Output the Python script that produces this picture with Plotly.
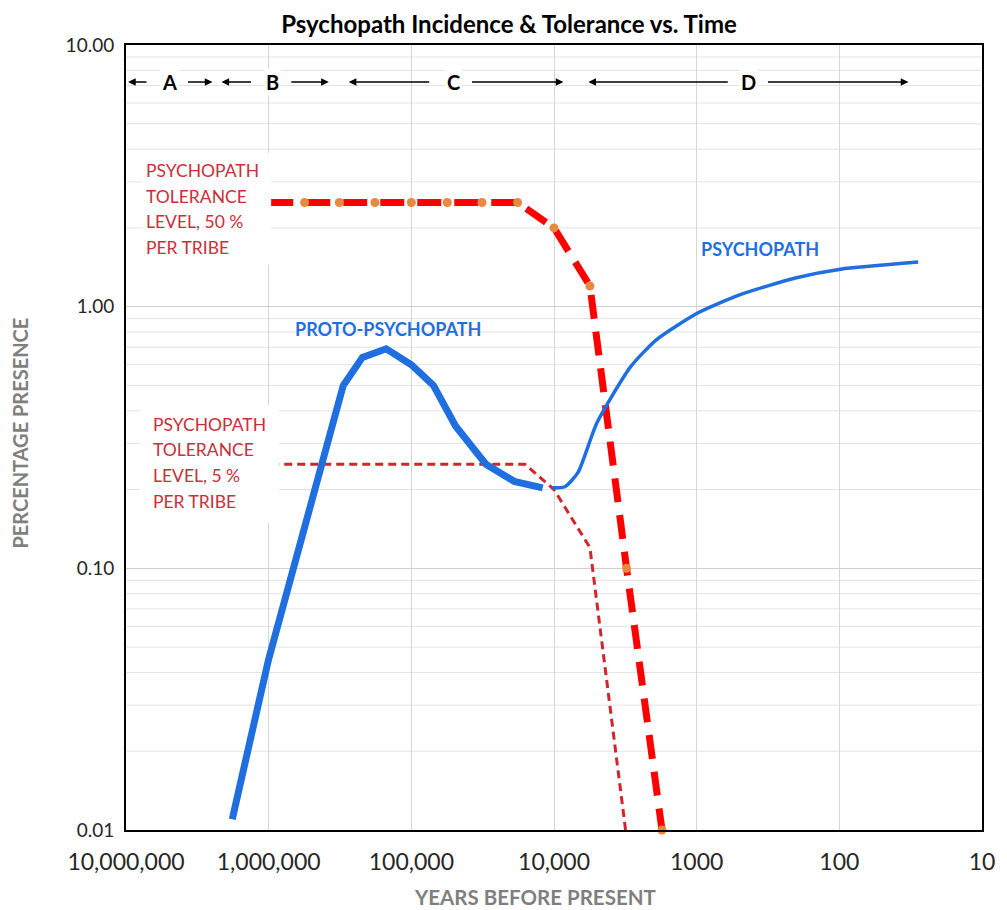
import plotly.graph_objects as go

# --- data (years before present, % presence) ---
proto_years = [1800000, 1000000, 300000, 220000, 150000, 100000, 70000, 49000, 30000, 19000, 12000]
proto_pct = [0.011, 0.045, 0.50, 0.64, 0.69, 0.60, 0.50, 0.35, 0.25, 0.215, 0.203]

psycho_years = [10200, 8400, 6800, 5000, 2900, 1900, 970, 500, 200, 98, 28]
psycho_pct = [0.203, 0.205, 0.232, 0.36, 0.59, 0.75, 0.95, 1.11, 1.29, 1.39, 1.48]

tol50_years = [1800000, 560000, 320000, 180000, 100000, 56000, 32000, 18000, 10000, 5600, 3100, 1750]
tol50_pct = [2.5, 2.5, 2.5, 2.5, 2.5, 2.5, 2.5, 2.5, 2.0, 1.2, 0.1, 0.01]

tol5_years = [1800000, 16000, 10000, 5600, 3150]
tol5_pct = [0.25, 0.25, 0.2, 0.12, 0.01]

x_tickvals = [10000000, 1000000, 100000, 10000, 1000, 100, 10]
x_ticktext = ["10,000,000", "1,000,000", "100,000", "10,000", "1000", "100", "10"]
y_tickvals = [0.01, 0.1, 1, 10]
y_ticktext = ["0.01", "0.10", "1.00", "10.00"]

periods = ["A", "B", "C", "D"]
tol50_label = ["PSYCHOPATH", "TOLERANCE", "LEVEL, 50 %", "PER TRIBE"]
tol5_label = ["PSYCHOPATH", "TOLERANCE", "LEVEL, 5 %", "PER TRIBE"]

FONT = "Lato"
BLUE = "#1f6fe0"
RED = "#ff0000"
DARK_RED = "#d0252b"
LABEL_RED = "#c8303a"

# the page body has an 8px margin, so the figure is sized to fit the window
# plot area in window pixels: x 126..987, y 45..830
def px_x(p):
    return (p - 126) / 861

def px_y(p):
    return (830 - p) / 785


fig = go.Figure()

fig.add_trace(go.Scatter(
    x=tol5_years, y=tol5_pct, mode="lines", name="Tolerance 5%",
    line=dict(color=DARK_RED, width=3, dash="8px,5px"),
))
fig.add_trace(go.Scatter(
    x=tol50_years, y=tol50_pct, mode="lines+markers", name="Tolerance 50%",
    line=dict(color=RED, width=7, dash="24px,13px"),
    marker=dict(color="#e8893d", size=9),
    cliponaxis=False,
))
fig.add_trace(go.Scatter(
    x=proto_years, y=proto_pct, mode="lines", name="Proto-psychopath",
    line=dict(color=BLUE, width=7),
))
fig.add_trace(go.Scatter(
    x=psycho_years, y=psycho_pct, mode="lines", name="Psychopath",
    line=dict(color=BLUE, width=3.5, shape="spline", smoothing=0.6),
))

# minor horizontal gridlines (2..9 in each decade)
shapes = []
for dec in [0.01, 0.1, 1]:
    for m in range(2, 10):
        shapes.append(dict(type="line", xref="paper", yref="y", x0=0, x1=1,
                           y0=dec * m, y1=dec * m, layer="below",
                           line=dict(color="#e3e3e3", width=1)))

# white boxes behind the tolerance labels (they hide lines/grid)
shapes.append(dict(type="rect", xref="paper", yref="paper", layer="above",
                   x0=px_x(143), x1=px_x(272), y0=px_y(265), y1=px_y(153),
                   fillcolor="white", line=dict(width=0)))
shapes.append(dict(type="rect", xref="paper", yref="paper", layer="above",
                   x0=px_x(140), x1=px_x(280), y0=px_y(523), y1=px_y(405),
                   fillcolor="white", line=dict(width=0)))

annotations = []
for i, line in enumerate(tol50_label):
    annotations.append(dict(
        xref="paper", yref="paper", x=px_x(144), y=px_y(171 + 25.5 * i),
        xanchor="left", yanchor="middle", text=line, showarrow=False,
        font=dict(family=FONT, size=17.5, color=LABEL_RED),
    ))
for i, line in enumerate(tol5_label):
    annotations.append(dict(
        xref="paper", yref="paper", x=px_x(151), y=px_y(424 + 25.7 * i),
        xanchor="left", yanchor="middle", text=line, showarrow=False,
        font=dict(family=FONT, size=17.5, color=LABEL_RED),
    ))
annotations.append(dict(
    xref="paper", yref="paper", x=px_x(390), y=px_y(329), xanchor="center", yanchor="middle",
    showarrow=False, text="<b>PROTO-PSYCHOPATH</b>",
    font=dict(family=FONT, size=18, color=BLUE),
))
annotations.append(dict(
    xref="paper", yref="paper", x=px_x(702), y=px_y(249), xanchor="left", yanchor="middle",
    showarrow=False, text="<b>PSYCHOPATH</b>",
    font=dict(family=FONT, size=18, color=BLUE),
))

# period labels with arrows: (letter x, left tail, left head, right tail, right head)
period_pos = [(170, 148, 128, 187, 213), (273, 253, 222, 291, 330),
              (455, 432, 350, 473, 566), (752, 732, 591, 771, 913)]
for letter, (cx, lt, lh, rt, rh) in zip(periods, period_pos):
    annotations.append(dict(
        xref="paper", yref="paper", x=px_x(cx), y=px_y(82), xanchor="center", yanchor="middle",
        showarrow=False, text="<b>" + letter + "</b>", bgcolor="white",
        font=dict(family=FONT, size=20, color="black"),
    ))
    for tail, head in [(lt, lh), (rt, rh)]:
        annotations.append(dict(
            xref="paper", yref="paper", x=px_x(head), y=px_y(82), ax=tail - head, ay=0,
            text="", showarrow=True, arrowhead=2, arrowsize=1.1, arrowwidth=1.4,
            arrowcolor="black",
        ))

# axis titles
annotations.append(dict(
    xref="paper", yref="paper", x=px_x(537), y=px_y(897), xanchor="center", yanchor="middle",
    showarrow=False, text="<b>YEARS BEFORE PRESENT</b>",
    font=dict(family=FONT, size=20.5, color="#7f7f7f"),
))
annotations.append(dict(
    xref="paper", yref="paper", x=px_x(19), y=px_y(433), xanchor="center", yanchor="middle",
    showarrow=False, textangle=-90, text="<b>PERCENTAGE PRESENCE</b>",
    font=dict(family=FONT, size=20, color="#7f7f7f"),
))

fig.update_layout(
    width=999, height=902,
    margin=dict(l=118, r=20, t=37, b=80),
    paper_bgcolor="white", plot_bgcolor="white",
    showlegend=False,
    title=dict(text="<b>Psychopath Incidence &amp; Tolerance vs. Time</b>",
               x=(509 - 8) / 999, xanchor="center", y=1 - 17 / 902, yanchor="middle",
               font=dict(family=FONT, size=24, color="black")),
    font=dict(family=FONT, color="#404040"),
    shapes=shapes,
    annotations=annotations,
)

fig.update_xaxes(
    type="log", range=[7, 1],
    tickvals=x_tickvals, ticktext=x_ticktext,
    tickfont=dict(family=FONT, size=23, color="#262626"),
    ticklabelstandoff=10,
    showgrid=True, gridcolor="#d6d6d6", gridwidth=1,
    showline=True, linecolor="black", linewidth=2, mirror=True,
    ticks="", zeroline=False,
)
fig.update_yaxes(
    type="log", range=[-2, 1],
    tickvals=y_tickvals, ticktext=y_ticktext,
    tickfont=dict(family=FONT, size=19, color="#262626"),
    ticklabelstandoff=6,
    showgrid=True, gridcolor="#d0d0d0", gridwidth=1,
    showline=True, linecolor="black", linewidth=2, mirror=True,
    ticks="", zeroline=False,
)

fig.write_html("out.html")
